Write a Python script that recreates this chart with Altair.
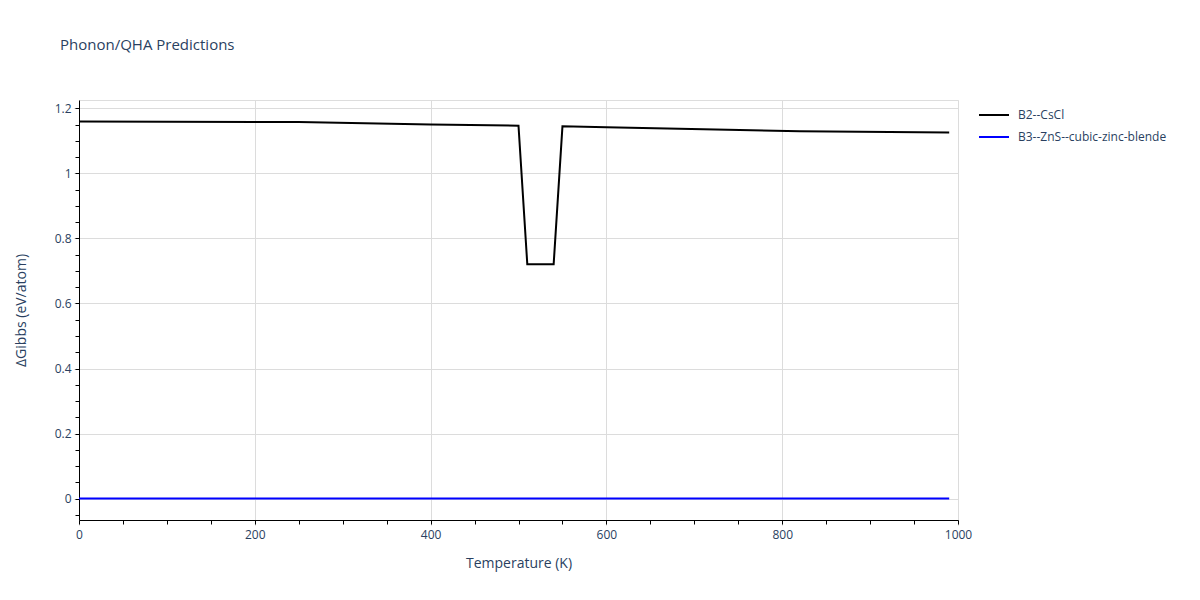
import altair as alt
import pandas as pd

# Data
temps_b2 = [0, 250, 400, 500, 510, 540, 550, 600, 820, 990]
gibbs_b2 = [1.160, 1.158, 1.151, 1.147, 0.721, 0.721, 1.145, 1.142, 1.130, 1.126]
temps_b3 = [0, 990]
gibbs_b3 = [0.0, 0.0]

series_names = ["B2--CsCl", "B3--ZnS--cubic-zinc-blende"]
series_colors = ["#000000", "#0000ff"]

x_major = [0, 200, 400, 600, 800, 1000]
x_minor = [v for v in range(0, 1001, 50)]
y_major = [0, 0.2, 0.4, 0.6, 0.8, 1.0, 1.2]
y_minor = [round(-0.05 + 0.05 * i, 2) for i in range(0, 26)]

rows = []
for t, g in zip(temps_b2, gibbs_b2):
    rows.append({"T": t, "G": g, "phase": series_names[0], "order": 0})
for t, g in zip(temps_b3, gibbs_b3):
    rows.append({"T": t, "G": g, "phase": series_names[1], "order": 1})
df = pd.DataFrame(rows)

FONT = "Open Sans"
TXT = "#2a3f5f"

xscale = alt.Scale(domain=[0, 1000], nice=False, zero=False)
yscale = alt.Scale(domain=[-0.066, 1.226], nice=False, zero=False)

lines = alt.Chart(df).mark_line(strokeWidth=2).encode(
    x=alt.X("T:Q", scale=xscale, title="Temperature (K)",
            axis=alt.Axis(values=x_major, format="d", grid=True, gridColor="#dcdcdc",
                          labelFlush=False,
                          domainColor="#000000", domainWidth=1,
                          tickColor="#c8c8c8", tickSize=5, tickWidth=1,
                          labelFont=FONT, labelFontSize=12, labelColor=TXT,
                          labelPadding=4, titleFont=FONT, titleFontSize=14,
                          titleFontWeight="normal", titleColor=TXT, titlePadding=16)),
    y=alt.Y("G:Q", scale=yscale, title="ΔGibbs (eV/atom)",
            axis=alt.Axis(values=y_major, format="~g", grid=True, gridColor="#dcdcdc",
                          labelFlush=False,
                          domainColor="#000000", domainWidth=1,
                          tickColor="#c8c8c8", tickSize=5, tickWidth=1,
                          labelFont=FONT, labelFontSize=12, labelColor=TXT,
                          labelPadding=3, titleFont=FONT, titleFontSize=14,
                          titleFontWeight="normal", titleColor=TXT, titlePadding=26)),
    color=alt.Color("phase:N", scale=alt.Scale(domain=series_names, range=series_colors),
                    legend=alt.Legend(title=None, orient="none", legendX=899, legendY=-1,
                                      symbolType="stroke", symbolSize=900,
                                      symbolStrokeWidth=2, labelFont=FONT,
                                      labelFontSize=12, labelColor=TXT,
                                      rowPadding=-10, labelOffset=8)),
    order="order:Q",
)

minor = alt.Chart(df).mark_line(opacity=0).encode(
    x=alt.X("T:Q", scale=xscale, title=None,
            axis=alt.Axis(values=x_minor, orient="bottom", grid=False, labels=False,
                          domain=False, tickColor="#000000", tickSize=4, tickWidth=1)),
    y=alt.Y("G:Q", scale=yscale, title=None,
            axis=alt.Axis(values=y_minor, orient="left", grid=False, labels=False,
                          domain=False, tickColor="#000000", tickSize=4, tickWidth=1)),
    detail="phase:N",
)

chart = alt.layer(lines, minor).resolve_axis(x="independent", y="independent").properties(
    width=879, height=420,
    autosize=alt.AutoSizeParams(type="none"),
    padding={"left": 71, "top": 92, "right": 230, "bottom": 70},
    title=alt.TitleParams("Phonon/QHA Predictions", anchor="start", frame="group", dx=-19,
                          offset=46, font=FONT, fontSize=15, fontWeight="normal", color=TXT),
).configure_view(stroke=None).configure(background="white")

chart.save("out.html", embed_options={"renderer": "svg", "actions": False})
